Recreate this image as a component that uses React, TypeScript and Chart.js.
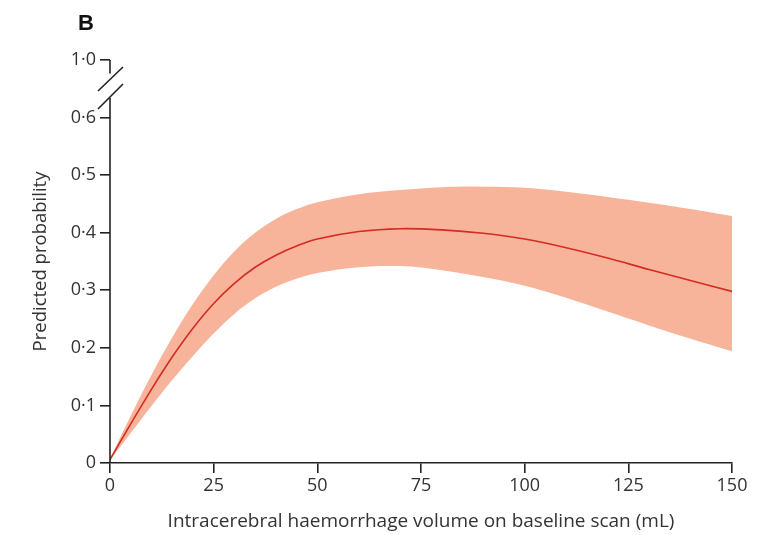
import React, { useEffect, useRef } from "react";
import { Chart, registerables } from "chart.js";

Chart.register(...registerables);

const volumes = [0, 5, 10, 15, 20, 25, 30, 35, 40, 45, 50, 60, 70, 80, 90, 100, 110, 120, 130, 140, 150];
const predicted = [0.006, 0.068, 0.128, 0.184, 0.234, 0.277, 0.312, 0.340, 0.361, 0.377, 0.389, 0.402, 0.407, 0.405, 0.399, 0.389, 0.374, 0.356, 0.336, 0.317, 0.298];
const upperCI = [0.007, 0.082, 0.153, 0.218, 0.276, 0.326, 0.368, 0.400, 0.424, 0.441, 0.453, 0.467, 0.474, 0.479, 0.480, 0.478, 0.471, 0.462, 0.452, 0.441, 0.429];
const lowerCI = [0.005, 0.052, 0.099, 0.144, 0.186, 0.225, 0.259, 0.286, 0.306, 0.320, 0.330, 0.340, 0.342, 0.335, 0.323, 0.308, 0.287, 0.263, 0.239, 0.216, 0.194];
const yTickValues = [0, 0.1, 0.2, 0.3, 0.4, 0.5, 0.6, 0.7];
const yTickLabels = ["0", "0\u00B71", "0\u00B72", "0\u00B73", "0\u00B74", "0\u00B75", "0\u00B76", "1\u00B70"];
const xTickLabels = ["0", "25", "50", "75", "100", "125", "150"];

const FONT = "'Open Sans', sans-serif";
const AXIS = "#222222";
const TEXT = "#333333";

const toPoints = (ys: number[]) => volumes.map((x, i) => ({ x, y: ys[i] }));

const decorPlugin = {
  id: "decor",
  afterDraw(chart: any) {
    const { ctx, scales } = chart;
    const y = scales.y;
    const x = scales.x;
    const ax = x.left;
    const topPx = y.getPixelForValue(0.7);
    const bottomPx = y.getPixelForValue(0);
    ctx.save();
    ctx.strokeStyle = AXIS;
    ctx.lineWidth = 1.6;
    ctx.beginPath();
    ctx.moveTo(ax, bottomPx);
    ctx.lineTo(ax, topPx + 38);
    ctx.moveTo(ax, topPx + 13.5);
    ctx.lineTo(ax, topPx);
    ctx.stroke();
    ctx.beginPath();
    ctx.moveTo(ax - 12, topPx + 31);
    ctx.lineTo(ax + 13, topPx + 7);
    ctx.moveTo(ax - 12, topPx + 49);
    ctx.lineTo(ax + 13, topPx + 24);
    ctx.stroke();
    ctx.fillStyle = "#111";
    ctx.font = "bold 22px 'Liberation Sans', sans-serif";
    ctx.textAlign = "left";
    ctx.textBaseline = "alphabetic";
    ctx.fillText("B", 78, 30);
    ctx.restore();
  },
};

export default function App() {
  const ref = useRef<HTMLCanvasElement>(null);
  useEffect(() => {
    if (!ref.current) return;
    const chart = new Chart(ref.current, {
      type: "line",
      data: {
        datasets: [
          {
            data: toPoints(predicted),
            order: 0,
            borderWidth: 1.6,
            borderColor: "#D42B22",
            fill: false,
            pointRadius: 0,
            tension: 0.35,
          },
          {
            data: toPoints(upperCI),
            order: 1,
            borderWidth: 0,
            borderColor: "rgba(0,0,0,0)",
            backgroundColor: "#F7B49A",
            fill: "+1",
            pointRadius: 0,
            tension: 0.35,
          },
          {
            data: toPoints(lowerCI),
            order: 2,
            borderWidth: 0,
            borderColor: "rgba(0,0,0,0)",
            fill: false,
            pointRadius: 0,
            tension: 0.35,
          },
        ],
      },
      options: {
        animation: false,
        responsive: false,
        layout: { padding: { left: 20, right: 43, top: 60, bottom: 0 } },
        plugins: { legend: { display: false }, tooltip: { enabled: false } },
        scales: {
          x: {
            type: "linear",
            min: 0,
            max: 150,
            afterFit: (s: any) => { s.height = 72; },
            afterBuildTicks: (s: any) => { s.ticks = xTickLabels.map((l) => ({ value: Number(l) })); },
            ticks: {
              callback: (v: any) => xTickLabels[xTickLabels.indexOf(String(v))] ?? "",
              color: TEXT,
              font: { family: FONT, size: 18 },
              padding: 2,
              maxRotation: 0,
            },
            grid: { drawOnChartArea: false, drawTicks: true, tickLength: 10, color: AXIS, lineWidth: 1.6 },
            border: { display: true, color: AXIS, width: 1.6 },
            title: {
              display: true,
              text: "Intracerebral haemorrhage volume on baseline scan (mL)",
              color: TEXT,
              font: { family: FONT, size: 19 },
              padding: { top: 0, bottom: 2 },
            },
          },
          y: {
            type: "linear",
            min: 0,
            max: 0.7,
            afterFit: (s: any) => { s.width = 90; },
            afterBuildTicks: (s: any) => { s.ticks = yTickValues.map((v) => ({ value: v })); },
            ticks: {
              callback: (v: any) => {
                const i = yTickValues.findIndex((t) => Math.abs(t - Number(v)) < 1e-6);
                return i >= 0 ? yTickLabels[i] : "";
              },
              color: TEXT,
              font: { family: FONT, size: 18 },
              padding: 4,
            },
            grid: { drawOnChartArea: false, drawTicks: true, tickLength: 10, color: AXIS, lineWidth: 1.6 },
            border: { display: false },
            title: {
              display: true,
              text: "Predicted probability",
              color: TEXT,
              font: { family: FONT, size: 18.5 },
              padding: { top: 10, bottom: 0 },
            },
          },
        },
      },
      plugins: [decorPlugin],
    } as any);
    return () => chart.destroy();
  }, []);
  return (
    <div style={{ position: "absolute", left: 0, top: 0, width: 775, height: 535, background: "#fff" }}>
      <canvas ref={ref} width={775} height={535} style={{ width: 775, height: 535 }} />
    </div>
  );
}
